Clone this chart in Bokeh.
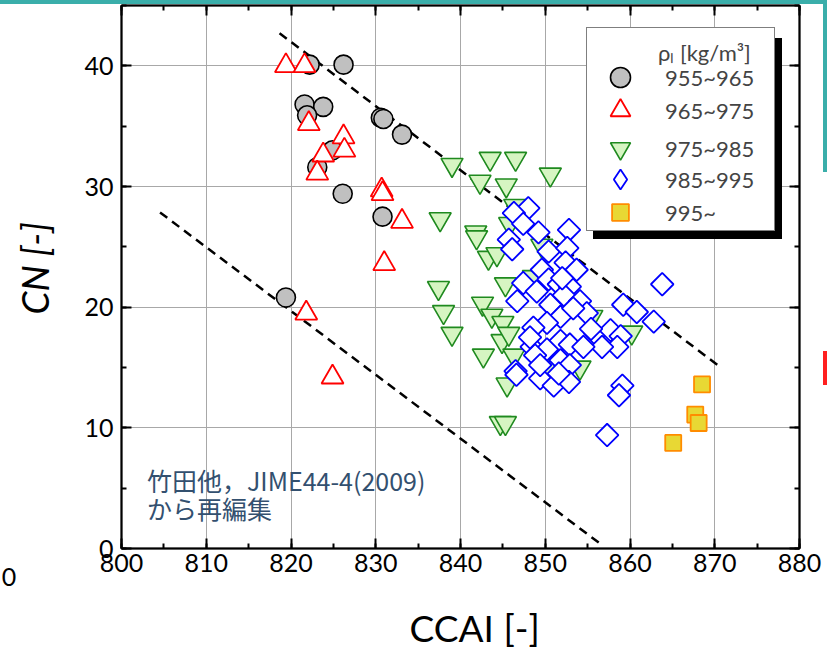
import numpy as np
from bokeh.plotting import figure
from bokeh.layouts import column, row
from bokeh.models import (Legend, LegendItem, LinearAxis, SingleIntervalTicker, Range1d,
                          Label, Div)
from bokeh.embed import file_html
from bokeh.resources import INLINE

# ---------------- data ----------------
ccai_955 = [822.2, 826.2, 821.6, 823.8, 821.9, 830.6, 830.9, 833.1, 824.9, 823.1, 826.1, 830.8, 819.4]
cn_955 = [40.1, 40.1, 36.8, 36.6, 35.9, 35.7, 35.6, 34.3, 33.0, 31.6, 29.4, 27.5, 20.8]

ccai_965 = [819.4, 821.6, 822.1, 826.2, 826.3, 823.8, 823.1, 830.7, 830.8, 833.1, 831.0, 821.8, 824.9]
cn_965 = [40.0, 40.0, 35.2, 34.1, 33.0, 32.6, 31.1, 29.7, 29.4, 27.1, 23.6, 19.5, 14.2]

ccai_975 = [839.0, 843.5, 846.5, 850.6, 842.3, 845.4, 837.6, 846.4, 841.8, 841.9, 845.8,
            843.3, 844.3, 837.4, 845.3, 838.0, 842.6, 843.7, 845.0, 839.0, 844.9, 845.7,
            842.7, 846.3, 845.5, 844.7, 845.3, 849.6, 848.6, 850.3, 854.1, 860.2, 855.5]
cn_975 = [31.8, 32.3, 32.3, 31.0, 30.4, 30.1, 27.3, 28.4, 26.2, 25.8, 26.9,
          24.1, 24.4, 21.6, 21.9, 19.6, 20.3, 19.3, 18.7, 17.8, 17.2, 17.8,
          16.0, 16.0, 13.6, 10.4, 10.4, 25.1, 22.5, 15.0, 15.0, 17.9, 19.2]

ccai_985 = [848.0, 846.3, 847.4, 849.2, 852.8, 845.7, 846.1, 850.4, 852.6, 849.6, 852.4,
            853.7, 863.8, 847.4, 850.4, 851.6, 852.9, 846.7, 849.0, 850.6, 852.2, 854.1,
            854.9, 851.8, 850.2, 848.6, 859.2, 860.8, 862.8, 855.9, 857.7, 858.9, 858.5,
            856.7, 848.4, 851.8, 852.9, 854.5, 850.2, 851.8, 848.8, 852.9, 846.5, 849.4,
            851.0, 852.8, 859.1, 858.7, 857.3, 852.0, 848.2, 849.4, 851.6, 846.6, 853.3, 855.4]
cn_985 = [28.2, 27.8, 26.9, 26.2, 26.4, 25.6, 24.8, 24.6, 24.9, 23.1, 23.7,
          23.1, 21.9, 22.0, 22.3, 21.9, 21.7, 20.5, 21.3, 20.2, 21.0, 20.5,
          19.5, 19.2, 18.7, 18.3, 20.2, 19.6, 18.8, 17.8, 18.1, 17.6, 16.7,
          16.7, 16.7, 17.2, 16.9, 16.7, 16.5, 15.6, 16.0, 15.2, 14.7, 14.1,
          13.5, 13.8, 13.5, 12.7, 9.4, 22.4, 17.5, 15.2, 14.5, 14.4, 19.9, 18.2]

ccai_995 = [868.5, 867.7, 868.1, 865.1]
cn_995 = [13.6, 11.1, 10.4, 8.75]

upper_x = [818.65, 870.54]
upper_y = [42.7, 15.1]
lower_x = [804.55, 856.4]
lower_y = [27.85, 0.44]

legend_labels = ["955~965", "965~975", "975~985", "985~995", "995~"]
x_ticks_interval = 10
y_ticks_interval = 10

FONT = "Lato"
TEAL = "#3aaeaa"
LEFT_W, RIGHT_W, TOP_H = 8, 5, 4

p = figure(width=827 - LEFT_W - RIGHT_W, height=654 - TOP_H, output_backend="svg",
           toolbar_location=None, x_range=Range1d(800, 880), y_range=Range1d(0, 45),
           min_border_left=121 - LEFT_W, min_border_right=828 - RIGHT_W - 799 - 1,
           min_border_top=1, min_border_bottom=106,
           background_fill_color="white", border_fill_color=None, margin=0)
p.outline_line_color = "black"
p.outline_line_width = 1.5

xt = SingleIntervalTicker(interval=x_ticks_interval, num_minor_ticks=2)
yt = SingleIntervalTicker(interval=y_ticks_interval, num_minor_ticks=2)
p.xaxis.ticker = xt
p.yaxis.ticker = yt
p.xgrid.ticker = xt
p.ygrid.ticker = yt
for g in (p.xgrid, p.ygrid):
    g.grid_line_color = "#a8a8a8"
    g.grid_line_width = 1

def style_axis(ax, labels=True, standoff=8):
    ax.axis_line_width = 2
    ax.axis_line_color = "black"
    ax.major_tick_in = 10
    ax.major_tick_out = 0
    ax.minor_tick_in = 5
    ax.minor_tick_out = 0
    ax.major_tick_line_width = 2
    ax.minor_tick_line_width = 2
    ax.major_tick_line_color = "black"
    ax.minor_tick_line_color = "black"
    if labels:
        ax.major_label_text_font = FONT
        ax.major_label_text_font_size = "25px"
        ax.major_label_text_color = "black"
        ax.major_label_standoff = standoff
        ax.axis_label_text_font = FONT
        ax.axis_label_text_font_size = "37px"
        ax.axis_label_text_color = "black"
    else:
        ax.major_label_text_font_size = "0px"
        ax.major_label_text_alpha = 0
        ax.major_label_standoff = 0

style_axis(p.xaxis[0], standoff=5)
style_axis(p.yaxis[0], standoff=8)
p.xaxis.axis_label = "\u00a0" * 3 + "CCAI [-]"
p.xaxis.axis_label_text_font_style = "normal"
p.xaxis.axis_label_standoff = 30
p.yaxis.axis_label = "\u00a0" * 2 + "CN [-]"
p.yaxis.axis_label_text_font_style = "italic"
p.yaxis.axis_label_standoff = 24

top_ax = LinearAxis(ticker=xt)
right_ax = LinearAxis(ticker=yt)
style_axis(top_ax, labels=False)
style_axis(right_ax, labels=False)
p.add_layout(top_ax, "above")
p.add_layout(right_ax, "right")

# dashed guide lines
p.line(upper_x, upper_y, line_color="black", line_width=2.5, line_dash="9 6")
p.line(lower_x, lower_y, line_color="black", line_width=2.5, line_dash="9 6")

r1 = p.scatter(ccai_955, cn_955, marker="circle", size=19, fill_color="#c0c0c0",
               line_color="black", line_width=1.6)
r2 = p.scatter(ccai_965, cn_965, marker="triangle", size=22, fill_color="white",
               line_color="#ff0000", line_width=1.8)
r3 = p.scatter(ccai_975, cn_975, marker="inverted_triangle", size=22, fill_color="#d6f5c2",
               line_color="#1f8a1f", line_width=1.6)
r4 = p.scatter(ccai_985, cn_985, marker="square", angle=np.pi / 4, size=16, fill_color="white",
               line_color="#0000ff", line_width=1.8)
r5 = p.scatter(ccai_995, cn_995, marker="square", size=16, fill_color="#e8d834",
               line_color="#ff8c00", line_width=1.8)
# legend-only stand-ins (not drawn in the plot: size 0)
r4_key = p.scatter(ccai_985, cn_985, marker="diamond", size=0, fill_color="white",
                   line_color="#0000ff", line_width=1.8)
r_blank = p.scatter(ccai_955, cn_955, marker="circle", size=0, fill_alpha=0, line_alpha=0)

FRAME_LEFT, FRAME_BOTTOM = 121, 548   # canvas pixels of the frame corner

common = dict(glyph_width=50, label_standoff=20,
              label_text_font=FONT, label_text_font_size="22px", margin=0,
              title_text_font=FONT, title_text_font_size="22px", title_text_font_style="normal",
              click_policy="none")
TITLE = "\u00a0" * 11 + "ρₗ [kg/m³]"

blank_items = [LegendItem(label="", renderers=[r_blank]) for _ in legend_labels]
box_kw = dict(title_standoff=4, padding=9, glyph_height=20, label_height=26, spacing=5, label_width=99)
shadow = Legend(items=blank_items, location=(586 - FRAME_LEFT + 7, FRAME_BOTTOM - 231 - 8),
                title="\u00a0", background_fill_color="black", background_fill_alpha=1,
                border_line_color="black", **box_kw, **common)
box = Legend(items=blank_items, location=(586 - FRAME_LEFT, FRAME_BOTTOM - 231), title=TITLE,
             background_fill_color="white", background_fill_alpha=1, border_line_color="black",
             border_line_width=1.5, **box_kw, **common)
p.add_layout(shadow)
p.add_layout(box)

key_rows = [(r1, 50, 77.3), (r2, 50, 110.0), (r3, 50, 148.3), (r4_key, 60, 179.0), (r5, 42, 212.3)]
for (rr, gh, cy), lab in zip(key_rows, legend_labels):
    lg = Legend(items=[LegendItem(label=lab, renderers=[rr])],
                location=(620 - 25 - FRAME_LEFT, FRAME_BOTTOM - cy - gh / 2),
                padding=0, glyph_height=gh, label_height=24, spacing=0, label_width=10,
                background_fill_alpha=0, border_line_alpha=0, **common)
    p.add_layout(lg)

# source note
note_col = "#33506f"
p.add_layout(Label(x=803, y=5.66, text="竹田他，JIME44-4(2009)", text_font="Noto Sans CJK JP",
                   text_font_size="25px", text_color=note_col, text_baseline="middle"))
p.add_layout(Label(x=803, y=3.34, text="から再編集", text_font="Noto Sans CJK JP",
                   text_font_size="25px", text_color=note_col, text_baseline="middle"))

# slide decorations around the cropped chart
top_band = Div(width=827, height=TOP_H, margin=0, text="", styles={"background-color": TEAL})
left_strip = Div(width=LEFT_W, height=654 - TOP_H, margin=0, styles={"overflow": "visible"},
                 text='<div style="margin-top:557px;width:18px;text-align:center;overflow:visible;'
                      'font-family:Lato;font-size:25px;line-height:30px;color:black;">0</div>')
right_strip = Div(width=RIGHT_W, height=654 - TOP_H, margin=0,
                  text='<div style="margin-left:1px;width:4px;height:168px;background:%s;"></div>'
                       '<div style="height:179px;"></div>'
                       '<div style="margin-left:1px;width:4px;height:34px;background:#ff2020;"></div>' % TEAL)

layout = column(top_band, row(left_strip, p, right_strip, spacing=0, margin=0), spacing=0, margin=0)
open("out.html", "w").write(file_html(layout, INLINE))
